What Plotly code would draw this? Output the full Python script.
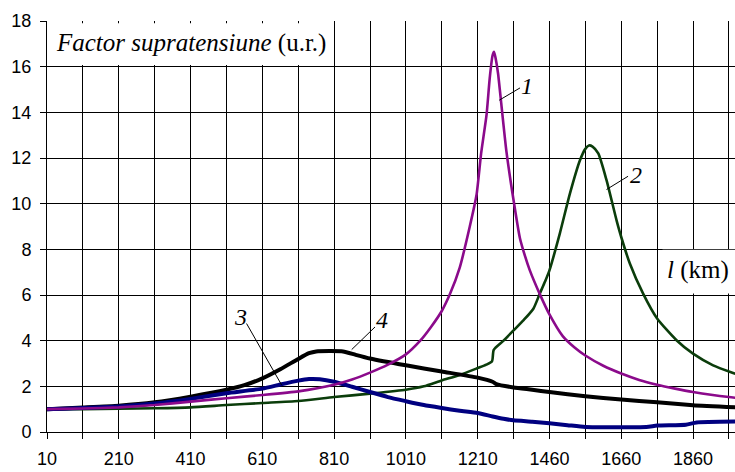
import numpy as np
import plotly.graph_objects as go

# Category-axis tick labels (km) -> evenly spaced positions (Excel-style category axis)
tick_km = [10, 210, 410, 610, 810, 1010, 1210, 1460, 1660, 1860, 2060]
tick_labels = ["10", "210", "410", "610", "810", "1010", "1210", "1460", "1660", "1860", ""]
tick_pos = [0, 20, 40, 60, 80, 100, 120, 140, 160, 180, 200]

# Curve 1 (purple)
km1 = [10, 110, 210, 310, 410, 510, 610, 710, 810, 860, 910, 960, 1010, 1050, 1080, 1110, 1133, 1160,
       1188, 1207, 1222, 1241, 1252, 1262, 1267, 1272, 1281, 1292, 1310, 1335, 1357, 1375, 1391, 1426,
       1460, 1497, 1530, 1560, 1610, 1660, 1710, 1760, 1810, 1860, 1910, 1960, 1990]
v1 = [1.0, 1.03, 1.08, 1.18, 1.33, 1.48, 1.62, 1.78, 2.07, 2.3, 2.6, 2.95, 3.4, 4.0, 4.6, 5.3, 6.05, 7.2,
      9.0, 10.4, 12.2, 13.9, 15.5, 16.5, 16.65, 16.4, 15.7, 14.4, 12.3, 10.15, 8.5, 7.7, 7.1, 6.05,
      5.15, 4.2, 3.7, 3.35, 2.9, 2.56, 2.28, 2.07, 1.9, 1.75, 1.63, 1.53, 1.48]

# Curve 2 (dark green)
km2 = [10, 110, 210, 310, 410, 510, 610, 710, 810, 910, 1010, 1060, 1110, 1160, 1210, 1240, 1260, 1266,
       1300, 1335, 1370, 1404, 1426, 1445, 1460, 1489, 1517, 1545, 1560, 1570, 1580, 1596, 1619, 1647, 1660,
       1684, 1721, 1760, 1814, 1860, 1916, 1976, 1990]
v2 = [1.0, 1.0, 1.02, 1.04, 1.08, 1.18, 1.27, 1.36, 1.53, 1.68, 1.85, 2.0, 2.26, 2.5, 2.8, 2.95, 3.1, 3.6,
      4.0, 4.45, 4.9, 5.4, 6.05, 6.6, 7.08, 8.7, 10.44, 11.9, 12.4, 12.55, 12.5, 12.2, 11.03, 9.27, 8.54,
      7.38, 6.06, 4.97, 4.02, 3.43, 2.92, 2.56, 2.48]

# Curve 3 (navy)
km3 = [10, 110, 210, 310, 410, 510, 610, 660, 710, 740, 770, 810, 860, 910, 960, 1010, 1060, 1110, 1160,
       1210, 1262, 1300, 1335, 1400, 1460, 1510, 1560, 1730, 1760, 1840, 1870, 1990]
v3 = [1.0, 1.05, 1.12, 1.25, 1.45, 1.7, 1.9, 2.08, 2.25, 2.32, 2.31, 2.2, 1.98, 1.75, 1.53, 1.35, 1.18,
      1.05, 0.93, 0.83, 0.68, 0.58, 0.51, 0.45, 0.38, 0.3, 0.22, 0.22, 0.28, 0.32, 0.42, 0.46]

# Curve 4 (black)
km4 = [10, 110, 210, 310, 410, 510, 560, 610, 660, 710, 740, 760, 835, 870, 910, 1010, 1110, 1210, 1262,
       1275, 1335, 1400, 1460, 1560, 1660, 1760, 1860, 1990]
v4 = [1.0, 1.07, 1.15, 1.3, 1.55, 1.85, 2.05, 2.35, 2.75, 3.2, 3.45, 3.53, 3.53, 3.38, 3.22, 2.92, 2.65,
      2.38, 2.2, 2.1, 1.95, 1.85, 1.75, 1.57, 1.42, 1.3, 1.17, 1.07]


def pos(km):
    return np.interp(km, tick_km, tick_pos)


fig = go.Figure()
series = [
    (km2, v2, "#0b3d0b", 2.6, 0.6),
    (km4, v4, "#000000", 4.0, 0.5),
    (km3, v3, "#000080", 4.0, 0.5),
    (km1, v1, "#8b0a8b", 2.6, 0.5),
]
for km, v, col, w, sm in series:
    fig.add_trace(go.Scatter(x=pos(km), y=v, mode="lines",
                             line=dict(color=col, width=w, shape="spline", smoothing=sm),
                             showlegend=False, hoverinfo="skip"))

serif = "Liberation Serif, Times New Roman, serif"
sans = "Liberation Sans, Arial, sans-serif"

xt_vals = list(range(0, 200, 10))
xt_text = [tick_labels[i // 2] if i % 2 == 0 else "" for i in range(len(xt_vals))]

fig.update_layout(
    width=735, height=472,
    margin=dict(l=47, r=0, t=21, b=40),
    paper_bgcolor="white", plot_bgcolor="white",
    xaxis=dict(range=[0, 191.7], tickmode="array", tickvals=xt_vals, ticktext=xt_text,
               showgrid=True, gridcolor="black", gridwidth=1,
               showline=True, linecolor="black", linewidth=1,
               ticks="outside", ticklen=6, tickcolor="black",
               tickfont=dict(family=sans, size=18, color="black"),
               ticklabelstandoff=4,
               zeroline=False, fixedrange=True),
    yaxis=dict(range=[0, 18], tickmode="array", tickvals=list(range(0, 19, 2)),
               showgrid=True, gridcolor="black", gridwidth=1,
               showline=True, linecolor="black", linewidth=1,
               ticks="outside", ticklen=6, tickcolor="black",
               tickfont=dict(family=sans, size=18, color="black"),
               ticklabelstandoff=5,
               zeroline=False, fixedrange=True),
)

shapes = [
    # white label boxes
    dict(type="rect", xref="x", yref="y", x0=0.3, x1=77.5, y0=16.07, y1=17.9,
         fillcolor="white", line=dict(width=0), layer="above"),
    dict(type="rect", xref="x", yref="y", x0=171.5, x1=191.7, y0=6.07, y1=7.98,
         fillcolor="white", line=dict(width=0), layer="above"),
    # leader lines
    dict(type="line", xref="x", yref="y", x0=126.0, y0=14.53, x1=131.8, y1=15.07, line=dict(color="black", width=1)),
    dict(type="line", xref="x", yref="y", x0=155.9, y0=10.62, x1=161.9, y1=11.2, line=dict(color="black", width=1)),
    dict(type="line", xref="x", yref="y", x0=55.6, y0=4.75, x1=65.4, y1=2.05, line=dict(color="black", width=1)),
    dict(type="line", xref="x", yref="y", x0=91.4, y0=4.6, x1=84.9, y1=3.61, line=dict(color="black", width=1)),
]
fig.update_layout(shapes=shapes)

ann = [
    dict(x=1.9, y=17.03, xref="x", yref="y", xanchor="left", yanchor="middle", showarrow=False,
         text="<i>Factor supratensiune</i> (u.r.)", font=dict(family=serif, size=25, color="black")),
    dict(x=181.3, y=7.08, xref="x", yref="y", xanchor="center", yanchor="middle", showarrow=False,
         text="<i>l</i> (km)", font=dict(family=serif, size=25, color="black")),
    dict(x=133.7, y=15.14, xref="x", yref="y", showarrow=False, text="<i>1</i>",
         font=dict(family=serif, size=24, color="black")),
    dict(x=164.1, y=11.24, xref="x", yref="y", showarrow=False, text="<i>2</i>",
         font=dict(family=serif, size=24, color="black")),
    dict(x=53.8, y=5.02, xref="x", yref="y", showarrow=False, text="<i>3</i>",
         font=dict(family=serif, size=24, color="black")),
    dict(x=93.3, y=4.89, xref="x", yref="y", showarrow=False, text="<i>4</i>",
         font=dict(family=serif, size=24, color="black")),
]
fig.update_layout(annotations=ann)

fig.write_html("out.html")
